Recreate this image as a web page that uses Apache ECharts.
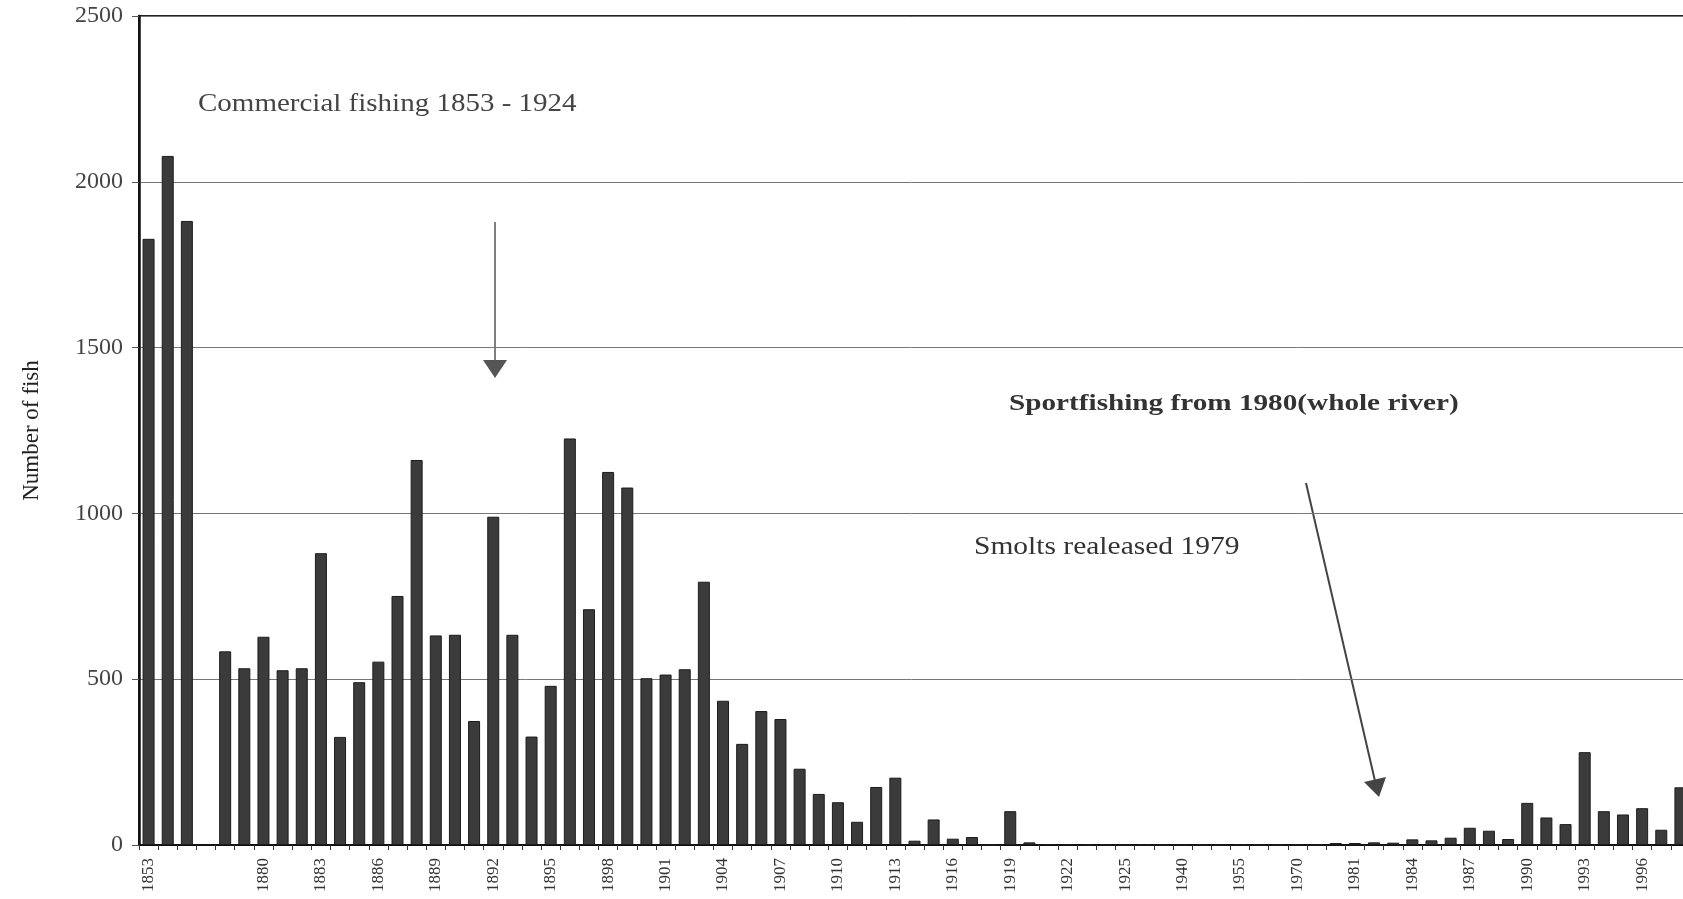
<!DOCTYPE html>
<html>
<head>
<meta charset="utf-8">
<script src="https://cdn.jsdelivr.net/npm/echarts@6/dist/echarts.min.js"></script>
<style>
html,body{margin:0;padding:0;background:#fff;}
#chart{width:1683px;height:899px;}
</style>
</head>
<body>
<div id="chart"></div>
<script>
// Categories (years) – one blank slot marks the gap 1856–1877
const years = [
  '1853','1854','1855','',
  '1878','1879','1880','1881','1882','1883','1884','1885','1886','1887','1888','1889',
  '1890','1891','1892','1893','1894','1895','1896','1897','1898','1899',
  '1900','1901','1902','1903','1904','1905','1906','1907','1908','1909',
  '1910','1911','1912','1913','1914','1915','1916','1917','1918','1919',
  '1920','1921','1922','1923','1924','1925','1930','1935','1940','1945','1950','1955',
  '1960','1965','1970','1975','1980','1981','1982','1983','1984','1985','1986','1987',
  '1988','1989','1990','1991','1992','1993','1994','1995','1996','1997','1998'
];
// Number of fish caught
const catches = [
  1828, 2078, 1882, null,
  584, 533, 628, 527, 533, 880, 326, 491, 553, 751, 1161, 632,
  634, 374, 990, 634, 327, 480, 1226, 711, 1125, 1078,
  503, 514, 530, 794, 435, 305, 404, 380, 230, 154,
  129, 70, 175, 203, 13, 77, 19, 24, 0, 102,
  8, 3, 3, 0, 0, 0, 0, 0, 0, 0, 0, 0,
  0, 0, 0, 0, 6, 6, 8, 7, 17, 14, 22, 52,
  43, 18, 127, 83, 63, 280, 102, 92, 111, 46, 174
];
const yTicks = { min: 0, max: 2500, step: 500 };
const yTitle = 'Number of fish';
const notes = {
  commercial: 'Commercial fishing 1853 - 1924',
  sport: 'Sportfishing from 1980(whole river)',
  smolts: 'Smolts realeased 1979'
};

const serif = '"Liberation Serif","Times New Roman",serif';
const chart = echarts.init(document.getElementById('chart'));

const option = {
  backgroundColor: '#fff',
  animation: false,
  grid: {
    left: 139, right: -7, top: 16, bottom: 54,
    show: true, borderColor: '#222', borderWidth: 2,
    outerBoundsMode: 'none'
  },
  xAxis: {
    type: 'category',
    data: years,
    boundaryGap: true,
    axisLine: { show: true, lineStyle: { color: '#111', width: 2 } },
    axisTick: { show: true, interval: 0, length: 5, lineStyle: { color: '#333', width: 1 } },
    axisLabel: {
      interval: 2, rotate: 90, margin: 13,
      fontFamily: serif, fontSize: 17, color: '#333'
    },
    splitLine: { show: false }
  },
  yAxis: {
    type: 'value',
    min: yTicks.min, max: yTicks.max, interval: yTicks.step,
    name: yTitle,
    nameLocation: 'middle',
    nameGap: 96,
    nameRotate: 90,
    nameTextStyle: { fontFamily: serif, fontSize: 23, color: '#222' },
    axisLine: { show: true, lineStyle: { color: '#111', width: 2.5 } },
    axisTick: { show: true, length: 7, lineStyle: { color: '#555' } },
    axisLabel: {
      margin: 16, fontFamily: serif, fontSize: 24, color: '#444',
      formatter: function (v) { return String(v); }
    },
    splitLine: { show: true, lineStyle: { color: '#777', width: 1 } }
  },
  series: [{
    type: 'bar',
    data: catches,
    barWidth: 12,
    itemStyle: { color: '#3b3b3b', borderColor: '#1c1c1c', borderWidth: 1 }
  }],
  graphic: [
    { type: 'text', x: 198, y: 104, scaleX: 1.16,
      style: { text: notes.commercial, fontFamily: serif, fontSize: 25, fill: '#444',
               textAlign: 'left', textVerticalAlign: 'middle' } },
    { type: 'text', x: 1009, y: 404, scaleX: 1.27,
      style: { text: notes.sport, fontFamily: serif, fontSize: 23, fontWeight: 'bold', fill: '#333',
               textAlign: 'left', textVerticalAlign: 'middle' } },
    { type: 'text', x: 974, y: 547, scaleX: 1.18,
      style: { text: notes.smolts, fontFamily: serif, fontSize: 25, fill: '#333',
               textAlign: 'left', textVerticalAlign: 'middle' } },
    { type: 'line', shape: { x1: 495, y1: 222, x2: 495, y2: 362 },
      style: { stroke: '#555', lineWidth: 1.5 } },
    { type: 'polygon', shape: { points: [[483, 360], [507, 360], [495, 378]] },
      style: { fill: '#555' } },
    { type: 'line', shape: { x1: 1306, y1: 483, x2: 1375, y2: 781 },
      style: { stroke: '#444', lineWidth: 2 } },
    { type: 'polygon', shape: { points: [[1386, 777], [1364, 782], [1379, 797]] },
      style: { fill: '#444' } }
  ]
};
chart.setOption(option);
</script>
</body>
</html>
